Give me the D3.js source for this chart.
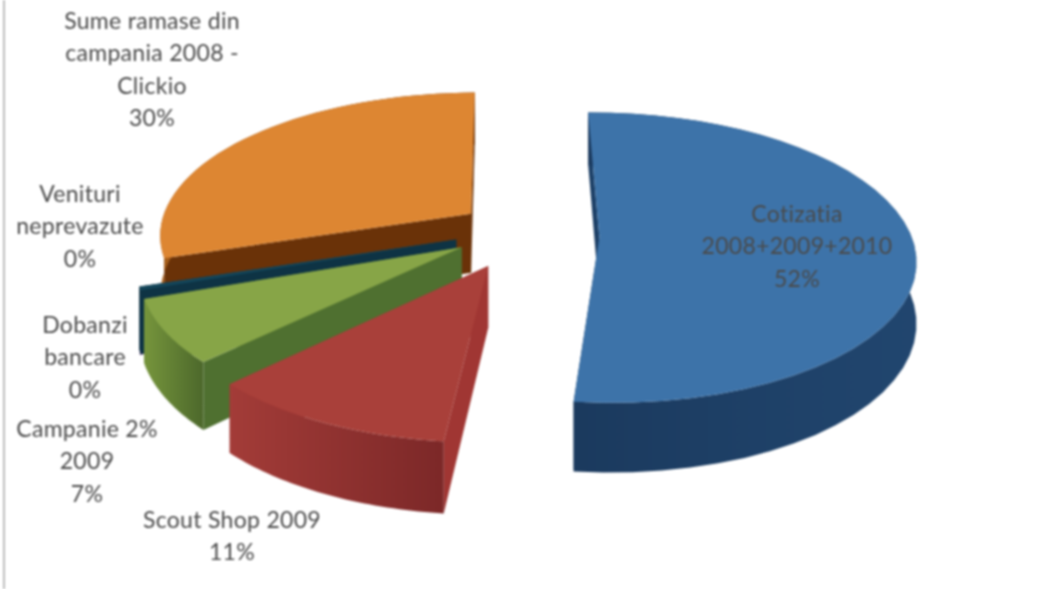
<!DOCTYPE html>
<html lang="ro">
<head>
<meta charset="UTF-8">
<title>Venituri</title>
<script src="https://cdnjs.cloudflare.com/ajax/libs/d3/7.9.0/d3.min.js"></script>
<style>
  body{margin:0;background:#fff;overflow:hidden}
  svg{display:block;filter:blur(.9px)}
  text{font-family:Lato,"Open Sans",sans-serif;font-size:23px;letter-spacing:.3px;fill:#4a4a4a;text-anchor:middle;dominant-baseline:middle}
</style>
</head>
<body>
<svg id="chart" width="1038" height="589"></svg>
<script>
/* ---------- data, pie order (clockwise from top) ---------- */
const categories = ["Cotizatia 2008+2009+2010","Scout Shop 2009","Campanie 2% 2009","Dobanzi bancare","Venituri neprevazute","Sume ramase din campania 2008 - Clickio"];
const values = [52,11,7,0.02,0.4,30];
const labelLines = [["Cotizatia","2008+2009+2010"],["Scout Shop 2009"],["Campanie 2%","2009"],["Dobanzi","bancare"],["Venituri","neprevazute"],["Sume ramase din","campania 2008 -","Clickio"]];

/* ---------- styling ---------- */
const topColors  = ["#3d73a9","#a9403a","#87a547","#6a4f8c","#14465a","#dd8632"];
const sideColors = ["#1c3f66","#a03633","#4f7030","#4a3566","#0e3344","#6a3208"];
const wallLight  = ["#21466f","#a33c38","#76953c","#4a3566","#0e3344","#a8601c"];
const wallDark   = ["#1b3a5e","#7c2828","#4c682b","#4a3566","#0e3344","#6a3208"];
const explode    = [.232,.25,.25,.25,.25,.2];
// small per-slice shifts, the original's 3D camera is not quite this projection
const nudgeX = [2,-2,4,5,6,-4];
const nudgeY = [0,-3,-8,-8,-8,-6];
const labelX = [797,232,87,85,80,152];
const labelY = [216,522,431,327,196,23];
const drawOrder = [5,3,4,2,1,0];

const cx = 525, cy = 236, R = 312, ky = 142, persp = .138, wall = 60, lineH = 32.5;
const startAngle = -.5*Math.PI/180;

const svg = d3.select("#chart");
const fmt = d3.format(".0%");
const total = d3.sum(values);
const arcs = d3.pie().sort(null).value(d=>d)
  .startAngle(startAngle).endAngle(startAngle+2*Math.PI)(values);

// angle is clockwise from the back of the pie, r in radius units, z 0 = top face
function project(arc,a,r,z){
  const i = arc.index, mid = (arc.startAngle+arc.endAngle)/2, e = explode[i];
  const X = e*Math.sin(mid)+r*Math.sin(a), Y = e*Math.cos(mid)+r*Math.cos(a);
  const s = 1/(1+persp*Y);
  return [cx+R*X*s+nudgeX[i], cy-ky*Y*s+z*wall*s+nudgeY[i]];
}
const line = d3.line();
const rimAngles = d => d3.range(0,41).map(i=>d.startAngle+(d.endAngle-d.startAngle)*i/40);

/* ---------- gradients for the rim ---------- */
const defs = svg.append("defs");
arcs.forEach((d,i)=>{
  const g = defs.append("linearGradient").attr("id","rim"+i);
  const flip = i===0;
  g.append("stop").attr("offset","0%").attr("stop-color",flip?wallDark[i]:wallLight[i]);
  g.append("stop").attr("offset","100%").attr("stop-color",flip?wallLight[i]:wallDark[i]);
});

/* ---------- slices, back to front ---------- */
svg.append("line").attr("x1",4).attr("x2",4).attr("y1",0).attr("y2",589)
  .attr("stroke","#bdbdbd").attr("stroke-width",2);

drawOrder.forEach(i=>{
  const d = arcs[i], g = svg.append("g");
  const rim = rimAngles(d);
  [d.endAngle,d.startAngle].forEach(a=>{
    g.append("path").attr("fill",sideColors[i])
      .attr("d",line([project(d,a,0,0),project(d,a,1,0),project(d,a,1,1),project(d,a,0,1)])+"Z");
  });
  const band = rim.map(a=>project(d,a,1,0)).concat(rim.slice().reverse().map(a=>project(d,a,1,1)));
  g.append("path").attr("fill",`url(#rim${i})`).attr("d",line(band)+"Z");
  const face = [project(d,0,0,0)].concat(rim.map(a=>project(d,a,1,0)));
  g.append("path").attr("fill",topColors[i]).attr("d",line(face)+"Z");
});

/* ---------- labels ---------- */
arcs.forEach((d,i)=>{
  const rows = labelLines[i].concat(fmt(values[i]/total));
  svg.append("g").selectAll("text").data(rows).join("text")
    .attr("x",labelX[i]).attr("y",(t,j)=>labelY[i]+j*lineH).text(t=>t);
});
</script>
</body>
</html>
